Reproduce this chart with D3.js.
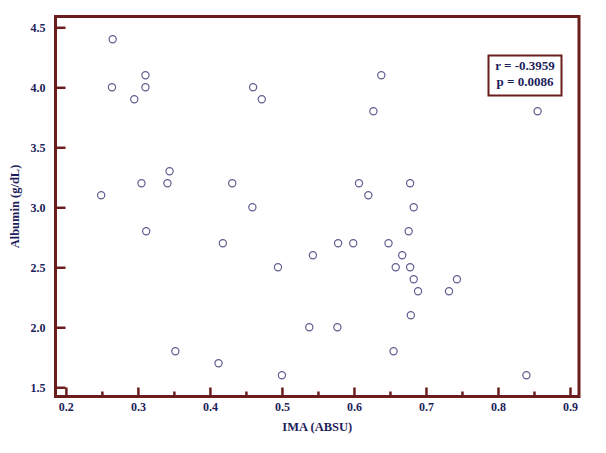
<!DOCTYPE html>
<html>
<head>
<meta charset="utf-8">
<script src="https://cdn.jsdelivr.net/npm/d3@7"></script>
<style>
  body { margin: 0; background: #fff; }
  svg text { font-family: "Liberation Serif", "Times New Roman", serif; font-weight: bold; fill: #1d1d5c; }
</style>
</head>
<body>
<div id="chart"></div>
<script>
// IMA (ABSU) vs Albumin (g/dL)
const imaValues = [0.265, 0.264, 0.3105, 0.3105, 0.295, 0.460, 0.472, 0.638, 0.627, 0.855,
  0.344, 0.305, 0.341, 0.431, 0.249, 0.459, 0.3115, 0.418, 0.4945, 0.543,
  0.578, 0.599, 0.607, 0.620, 0.648, 0.667, 0.658, 0.678, 0.683, 0.676,
  0.678, 0.683, 0.689, 0.732, 0.743, 0.679, 0.538, 0.577, 0.655, 0.352,
  0.412, 0.500, 0.8395];
const albuminValues = [4.4, 4.0, 4.1, 4.0, 3.9, 4.0, 3.9, 4.1, 3.8, 3.8,
  3.3, 3.2, 3.2, 3.2, 3.1, 3.0, 2.8, 2.7, 2.5, 2.6,
  2.7, 2.7, 3.2, 3.1, 2.7, 2.6, 2.5, 3.2, 3.0, 2.8,
  2.5, 2.4, 2.3, 2.3, 2.4, 2.1, 2.0, 2.0, 1.8, 1.8,
  1.7, 1.6, 1.6];
const xTicks = [0.2, 0.3, 0.4, 0.5, 0.6, 0.7, 0.8, 0.9];
const xMinorTicks = [0.25, 0.35, 0.45, 0.55, 0.65, 0.75, 0.85];
const yTicks = [1.5, 2.0, 2.5, 3.0, 3.5, 4.0, 4.5];
const statLines = ["r = -0.3959", "p = 0.0086"];

const width = 606, height = 453;
const margin = { top: 16.5, right: 27, bottom: 56.5, left: 55.5 };
const frameColor = "#6b1c1c";

const svg = d3.select("#chart").append("svg")
  .attr("width", width)
  .attr("height", height);

const x = d3.scaleLinear().domain([0.1856, 0.9125]).range([margin.left, width - margin.right]);
const y = d3.scaleLinear().domain([1.423, 4.59]).range([height - margin.bottom, margin.top]);

// x axis, ticks point inward
const xAxis = svg.append("g")
  .attr("transform", "translate(0," + (height - margin.bottom) + ")")
  .call(d3.axisBottom(x).tickValues(xTicks).tickSize(-9).tickPadding(6).tickFormat(d3.format(".1f")));
svg.append("g")
  .attr("transform", "translate(0," + (height - margin.bottom) + ")")
  .call(d3.axisBottom(x).tickValues(xMinorTicks).tickSize(-5).tickFormat(""));

const yAxis = svg.append("g")
  .attr("transform", "translate(" + margin.left + ",0)")
  .call(d3.axisLeft(y).tickValues(yTicks).tickSize(-10).tickPadding(10).tickFormat(d3.format(".1f")));

svg.selectAll(".domain").remove();
svg.selectAll(".tick line").attr("stroke", frameColor).attr("stroke-width", 2.5);
svg.selectAll(".tick text").attr("font-size", 12).attr("fill", "#1d1d5c");

// frame
svg.append("rect")
  .attr("x", margin.left)
  .attr("y", margin.top)
  .attr("width", width - margin.left - margin.right)
  .attr("height", height - margin.top - margin.bottom)
  .attr("fill", "none")
  .attr("stroke", frameColor)
  .attr("stroke-width", 3);

// axis titles
svg.append("text")
  .attr("x", (margin.left + width - margin.right) / 2)
  .attr("y", 431)
  .attr("text-anchor", "middle")
  .attr("font-size", 12.5)
  .text("IMA (ABSU)");

svg.append("text")
  .attr("transform", "translate(19," + ((margin.top + height - margin.bottom) / 2) + ") rotate(-90)")
  .attr("text-anchor", "middle")
  .attr("font-size", 12.5)
  .text("Albumin (g/dL)");

// points
svg.append("g")
  .selectAll("circle")
  .data(d3.zip(imaValues, albuminValues))
  .join("circle")
  .attr("cx", d => x(d[0]))
  .attr("cy", d => y(d[1]))
  .attr("r", 3.6)
  .attr("fill", "none")
  .attr("stroke", "#5e5e90")
  .attr("stroke-width", 1.2);

// stats box
const box = svg.append("g");
box.append("rect")
  .attr("x", 488.5).attr("y", 55.5)
  .attr("width", 73).attr("height", 40)
  .attr("fill", "#fff")
  .attr("stroke", frameColor)
  .attr("stroke-width", 2);
box.selectAll("text")
  .data(statLines)
  .join("text")
  .attr("x", 525)
  .attr("y", (d, i) => 70 + i * 16)
  .attr("text-anchor", "middle")
  .attr("font-size", 13)
  .text(d => d);
</script>
</body>
</html>
